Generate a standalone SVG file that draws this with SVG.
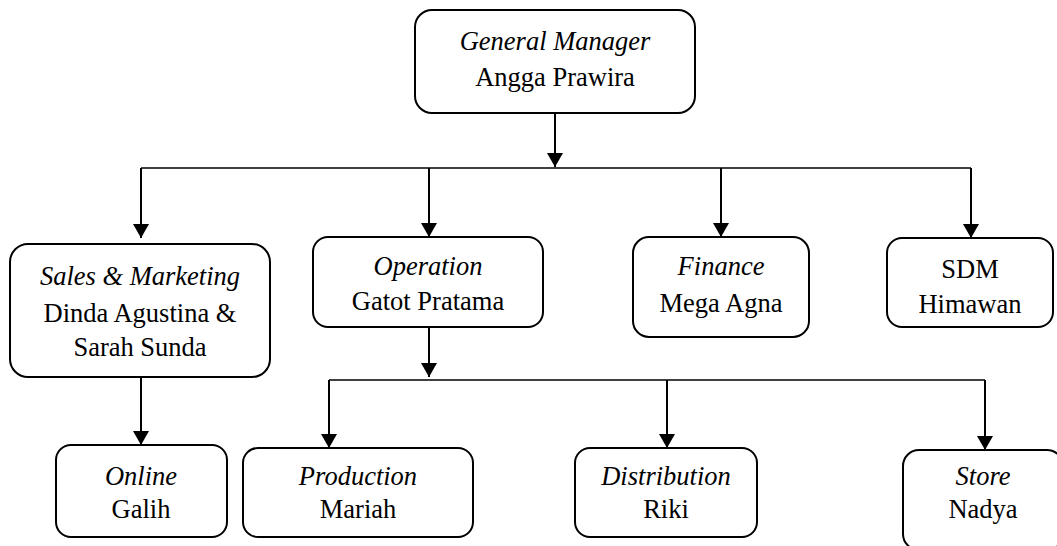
<svg xmlns="http://www.w3.org/2000/svg" width="1057" height="546" viewBox="0 0 1057 546">
<style>
  .box{fill:#fff;stroke:#000;stroke-width:2}
  .t{font-family:'Liberation Serif','Times New Roman','DejaVu Serif',serif;font-size:26.5px;fill:#000;text-anchor:middle}
  .i{font-style:italic}
  .v{stroke:#000;stroke-width:2;fill:none}
  .h{stroke:#000;stroke-width:1.5;fill:none}
</style>
<defs>
  <marker id="ah" markerUnits="userSpaceOnUse" markerWidth="14" markerHeight="16" refX="14" refY="8" orient="auto">
    <path d="M0,0 L14,8 L0,16 z" fill="#000"/>
  </marker>
</defs>
<g id="connectors">
  <line class="v" x1="555" y1="113" x2="555" y2="167" marker-end="url(#ah)"/>
  <line class="h" x1="141" y1="168" x2="971" y2="168"/>
  <line class="v" x1="141" y1="168" x2="141" y2="238" marker-end="url(#ah)"/>
  <line class="v" x1="429" y1="168" x2="429" y2="237" marker-end="url(#ah)"/>
  <line class="v" x1="721" y1="168" x2="721" y2="237" marker-end="url(#ah)"/>
  <line class="v" x1="971" y1="168" x2="971" y2="238" marker-end="url(#ah)"/>
  <line class="v" x1="429" y1="327" x2="429" y2="377" marker-end="url(#ah)"/>
  <line class="h" x1="329" y1="380" x2="985" y2="380"/>
  <line class="v" x1="329" y1="380" x2="329" y2="448" marker-end="url(#ah)"/>
  <line class="v" x1="667" y1="380" x2="667" y2="448" marker-end="url(#ah)"/>
  <line class="v" x1="985" y1="380" x2="985" y2="450" marker-end="url(#ah)"/>
  <line class="v" x1="141" y1="377" x2="141" y2="445" marker-end="url(#ah)"/>
</g>
<g id="gm">
  <rect class="box" x="415" y="10" width="280" height="103" rx="17"/>
  <text class="t i" x="555" y="50">General Manager</text>
  <text class="t" x="555" y="86">Angga Prawira</text>
</g>
<g id="sales">
  <rect class="box" x="10" y="244" width="260" height="133" rx="18"/>
  <text class="t i" x="140" y="285">Sales &amp; Marketing</text>
  <text class="t" x="140" y="322">Dinda Agustina &amp;</text>
  <text class="t" x="140" y="356">Sarah Sunda</text>
</g>
<g id="operation">
  <rect class="box" x="313" y="237" width="230" height="90" rx="15"/>
  <text class="t i" x="428" y="275">Operation</text>
  <text class="t" x="428" y="310">Gatot Pratama</text>
</g>
<g id="finance">
  <rect class="box" x="633" y="237" width="176" height="100" rx="16"/>
  <text class="t i" x="721" y="275">Finance</text>
  <text class="t" x="721" y="312">Mega Agna</text>
</g>
<g id="sdm">
  <rect class="box" x="887" y="238" width="166" height="89" rx="15"/>
  <text class="t" x="970" y="278">SDM</text>
  <text class="t" x="970" y="313">Himawan</text>
</g>
<g id="online">
  <rect class="box" x="56" y="445" width="171" height="92" rx="15"/>
  <text class="t i" x="141" y="485">Online</text>
  <text class="t" x="141" y="518">Galih</text>
</g>
<g id="production">
  <rect class="box" x="243" y="448" width="230" height="89" rx="15"/>
  <text class="t i" x="358" y="485">Production</text>
  <text class="t" x="358" y="518">Mariah</text>
</g>
<g id="distribution">
  <rect class="box" x="575" y="448" width="182" height="89" rx="15"/>
  <text class="t i" x="666" y="485">Distribution</text>
  <text class="t" x="666" y="518">Riki</text>
</g>
<g id="store">
  <rect class="box" x="903" y="450" width="160" height="100" rx="16"/>
  <text class="t i" x="983" y="485">Store</text>
  <text class="t" x="983" y="518">Nadya</text>
</g>
</svg>
